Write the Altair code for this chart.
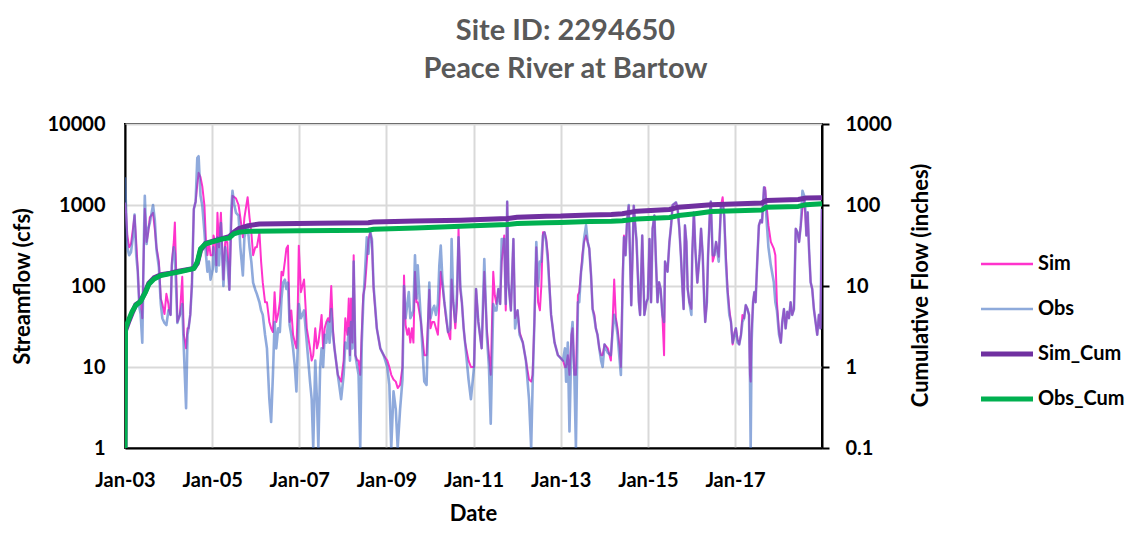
import altair as alt
import pandas as pd

# ---- streamflow (cfs) ----
flow_dates = [
    "2003-01-01","2003-01-10","2003-01-20","2003-02-05","2003-02-20","2003-03-08","2003-03-22","2003-04-05","2003-04-18",
    "2003-05-01","2003-05-12","2003-05-26","2003-06-08","2003-06-16","2003-07-01","2003-07-14","2003-07-28","2003-08-24",
    "2003-09-08","2003-09-22","2003-10-12","2003-10-28","2003-11-10","2003-11-28","2003-12-14","2003-12-31",
    "2004-01-05","2004-01-18","2004-01-29","2004-02-14","2004-02-23","2004-03-05","2004-03-15","2004-04-05","2004-04-25",
    "2004-05-08","2004-05-27","2004-06-08","2004-06-17","2004-07-01","2004-07-15","2004-07-31","2004-08-15","2004-08-29",
    "2004-09-09","2004-09-25","2004-10-10","2004-10-28","2004-11-10","2004-11-22","2004-12-05","2004-12-18",
    "2005-01-05","2005-01-12","2005-01-25","2005-02-05","2005-02-14","2005-02-27","2005-03-15","2005-04-05","2005-04-20",
    "2005-05-08","2005-05-25","2005-06-10","2005-06-20","2005-07-05","2005-07-20","2005-08-10","2005-08-25","2005-09-15",
    "2005-09-28","2005-10-25","2005-11-10","2005-11-25","2005-12-10","2005-12-28",
    "2006-01-10","2006-02-01","2006-02-15","2006-03-01","2006-03-20","2006-04-05","2006-04-25","2006-05-10","2006-05-25",
    "2006-06-08","2006-06-22","2006-07-08","2006-07-22","2006-08-05","2006-08-18","2006-09-02","2006-09-15","2006-09-28",
    "2006-10-12","2006-10-26","2006-11-10","2006-11-25","2006-12-08","2006-12-20","2006-12-28",
    "2007-01-15","2007-02-10","2007-03-05","2007-04-01","2007-04-15","2007-04-28","2007-05-15","2007-05-29","2007-06-10",
    "2007-06-25","2007-07-07","2007-07-20","2007-08-02","2007-08-16","2007-08-30","2007-09-12","2007-09-26","2007-10-10",
    "2007-10-23","2007-11-20","2007-12-18",
    "2008-01-08","2008-01-22","2008-02-08","2008-02-20","2008-03-01","2008-03-10","2008-03-22","2008-04-01","2008-04-15",
    "2008-05-01","2008-05-12","2008-05-26","2008-06-08","2008-06-20","2008-07-05","2008-07-20","2008-08-03","2008-08-18",
    "2008-09-01","2008-09-15","2008-10-12","2008-11-10","2008-12-08",
    "2009-01-08","2009-01-25","2009-02-10","2009-03-01","2009-03-20","2009-04-05","2009-04-25","2009-05-15","2009-05-28",
    "2009-06-10","2009-06-25","2009-07-07","2009-07-20","2009-08-02","2009-08-15","2009-08-28","2009-09-10","2009-09-20",
    "2009-10-17","2009-11-14","2009-12-03","2009-12-26",
    "2010-01-05","2010-01-20","2010-02-05","2010-02-20","2010-03-08","2010-03-20","2010-04-01","2010-04-15","2010-05-01",
    "2010-05-15","2010-06-01","2010-06-20","2010-07-01","2010-07-15","2010-08-01","2010-08-15","2010-08-28","2010-09-12",
    "2010-09-25","2010-10-10","2010-10-22","2010-11-20","2010-12-10",
    "2011-01-05","2011-01-22","2011-02-10","2011-03-10","2011-04-01","2011-04-22","2011-05-10","2011-05-25","2011-06-15",
    "2011-06-28","2011-07-12","2011-07-28","2011-08-12","2011-08-25","2011-09-15","2011-09-28","2011-10-10","2011-10-20",
    "2011-11-10","2011-12-01","2011-12-15",
    "2012-01-05","2012-01-22","2012-02-18","2012-03-15","2012-04-10","2012-04-28","2012-05-10","2012-05-25","2012-06-10",
    "2012-06-25","2012-07-10","2012-07-22","2012-08-05","2012-08-18","2012-09-01","2012-09-15","2012-10-12","2012-11-10",
    "2012-12-08",
    "2013-01-20","2013-02-05","2013-02-15","2013-03-01","2013-03-15","2013-04-01","2013-04-10","2013-04-25","2013-05-08",
    "2013-05-25","2013-06-05","2013-06-20","2013-07-01","2013-07-15","2013-08-01","2013-08-15","2013-08-28","2013-09-12",
    "2013-09-25","2013-10-10","2013-10-22","2013-11-05","2013-11-20","2013-12-05","2013-12-18",
    "2014-01-03","2014-01-30","2014-02-25","2014-03-10","2014-03-25","2014-04-08","2014-04-22","2014-05-10","2014-05-20",
    "2014-06-05","2014-06-15","2014-06-28","2014-07-10","2014-07-25","2014-08-15","2014-09-05","2014-09-20","2014-09-28",
    "2014-10-18","2014-10-28","2014-11-15","2014-12-03","2014-12-20",
    "2015-01-01","2015-01-15","2015-01-28","2015-02-10","2015-02-25","2015-03-10","2015-03-23","2015-04-05","2015-04-18",
    "2015-05-03","2015-05-17","2015-05-25","2015-06-15","2015-07-01","2015-07-15","2015-07-28","2015-08-25","2015-09-08",
    "2015-09-22","2015-10-05","2015-10-20","2015-10-28","2015-11-08","2015-11-20","2015-12-01","2015-12-15",
    "2016-01-01","2016-01-08","2016-01-22","2016-02-03","2016-02-20","2016-03-10","2016-03-22","2016-04-05","2016-04-18",
    "2016-04-26","2016-05-10","2016-05-20","2016-06-03","2016-06-12","2016-06-28","2016-07-12","2016-07-26","2016-08-17",
    "2016-09-05","2016-09-19","2016-10-02","2016-10-16","2016-10-30","2016-11-14","2016-11-28","2016-12-12","2016-12-28",
    "2017-01-08","2017-01-22","2017-02-05","2017-02-20","2017-03-04","2017-03-18","2017-04-01","2017-04-15","2017-04-28",
    "2017-05-06","2017-05-12","2017-05-20","2017-06-01","2017-06-12","2017-06-22","2017-07-06","2017-07-20","2017-08-03",
    "2017-08-15","2017-09-01","2017-09-10","2017-09-20","2017-10-08","2017-10-28","2017-11-22","2017-12-05","2017-12-18",
    "2018-01-05","2018-01-20","2018-02-01","2018-02-15","2018-03-01","2018-03-15","2018-03-29","2018-04-12","2018-04-25",
    "2018-05-10","2018-05-25","2018-06-08","2018-06-22","2018-07-06","2018-07-20","2018-08-03","2018-08-12","2018-08-22",
    "2018-09-02","2018-09-13","2018-09-27","2018-10-10","2018-10-24","2018-11-07","2018-11-21","2018-12-05","2018-12-18",
    "2018-12-30",
]
sim_cfs = [
    1070,800,420,300,330,500,740,350,160, 60,70,40,300,900,350,450,700,800, 500,300,200,70,60,45,80,60,
    50,44,200,350,610,150,36,44,130, 25,17,30,30,44,110,890,1100,1800, 2500,2200,1700,980,350,240,350,240,
    240,420,350,180,800,300,800,120,350, 350,90,600,1300,1250,1200,1000,700,400, 700,1250,700,460,240,300,
    300,460,200,110,63,63,36,30,27, 84,36,45,63,150,135,200,290,315, 36,50,25,20,17,60,315,
    84,120,30,17,12,14,30,17,20, 30,44,17,30,36,40,36,100,30, 17,8,6.6,
    12,40,25,70,14,70,20,240,14, 12,12,8,27,77,100,200,380,460, 350,92,30,17,14,
    12,10,8,7,6.6,5.5,6,10,135, 33,25,30,20,30,20,150,63,63, 36,14,14,90,
    30,36,36,30,25,60,150,100,63, 40,27,22,120,63,30,60,510,90, 63,30,20,12,10,
    10,92,36,17,150,30,14,8,150, 77,60,92,60,200,420,50,1100,110, 50,380,40,
    50,27,20,12,7,6.6,8,36,300, 63,50,100,460,460,380,240,44,20, 14,
    12,10,10,14,8,25,30,8,8, 77,84,150,240,350,420,350,290,135, 52,44,30,25,17,14,14,
    19,17,12,30,120,40,30,17,10, 150,420,240,610,980,58,980,500,350, 63,44,420,44,63,
    70,380,63,510,740,200,63,111,92, 44,14,200,150,350,560,1000,1070,890, 510,240,84,52,560,350,92,63,
    52,240,810,290,110,240,510,240,63, 36,63,240,740,1100,200,240,350,230, 980,1250,740,240,92,52,36,19,27,
    30,22,19,25,44,40,58,52,44, 8,6.6,27,63,84,63,200,560,650, 610,1650,1650,1070,560,350,290,240,63,
    27,20,36,52,30,48,40,63,44, 52,510,460,350,560,900,1100,810,420, 810,290,111,92,52,36,25,44,30,
    890,
]
obs_cfs = [
    2200,900,300,240,260,400,760,240,150, 55,45,20,350,1300,330,500,600,1000, 650,280,170,60,40,35,33,50,
    50,44,180,300,250,90,35,44,60, 17,3.1,25,30,44,100,890,1100,3800, 4000,1300,980,460,240,150,200,120,
    160,300,200,150,400,180,600,100,300, 200,90,900,1500,1000,800,740,300,135, 400,560,300,200,110,90,
    80,63,50,44,25,17,4,2.1,8, 36,17,30,27,70,110,120,92,110, 33,25,17,10,5,20,60,
    40,50,20,6.6,4,1,12,4,1, 10,17,10,25,20,36,20,52,25, 17,8,4,
    8,20,17,30,12,36,17,200,14, 10,8,1,20,60,150,400,250,460, 380,100,30,17,14,
    10,6,1,5,3,1,3,7,100, 40,60,84,40,44,50,240,70,180, 36,6.6,6,110,
    40,50,57,44,60,180,315,120,63, 44,27,30,380,63,36,80,400,100, 63,30,20,7,4,
    10,92,36,17,215,25,10,2,60, 50,50,92,60,380,380,60,1100,110, 50,380,30,
    50,25,20,12,4,1,6,36,350, 100,200,200,420,460,350,200,44,20, 14,
    12,17,6.6,20,1.6,25,36,8,1, 63,63,150,200,380,560,350,290,135, 52,40,30,25,17,12,10,
    19,15,14,25,44,36,25,12,8, 120,400,240,600,1000,58,980,500,380, 63,44,420,44,63,
    70,380,63,510,740,200,63,111,92, 44,36,200,150,350,560,1000,1080,890, 510,240,84,52,560,350,92,63,
    44,240,810,290,111,240,510,240,63, 36,63,240,740,1100,240,240,350,200, 980,1000,740,200,84,44,36,20,25,
    30,20,19,25,36,40,58,52,44, 8,1,20,63,84,63,200,560,650, 610,1650,1500,740,300,180,111,63,50,
    25,20,36,52,30,48,40,63,44, 52,510,460,350,560,1500,1300,980,420, 810,290,111,92,52,36,25,44,30,
    900,
]

# ---- cumulative flow (inches) ----
obs_cum_dates = [
    "2003-01-01","2003-01-05","2003-02-03","2003-03-01","2003-04-02","2003-05-10","2003-06-22","2003-07-20","2003-09-01",
    "2003-10-29","2004-01-15","2004-03-14","2004-07-31","2004-08-29","2004-09-25","2004-11-05","2005-01-01","2005-03-23",
    "2005-05-22","2005-07-01","2005-08-10","2005-11-01","2007-01-01","2008-08-01","2008-09-15","2009-09-01","2010-09-15",
    "2011-01-01","2011-10-10","2012-01-01","2012-09-01","2013-01-01","2013-09-01","2014-03-01","2014-06-01","2014-10-01",
    "2015-07-01","2015-09-15","2016-02-01","2016-06-15","2017-08-15","2017-09-20","2018-06-15","2018-08-20","2018-12-31",
]
obs_cum = [
    0.1,3.0,3.9,4.8,5.8,6.4,8.4,10.5,12.2, 13.5,14.2,14.8,16.4,19.8,28.8,33,35,38,
    39,44,46,47.5,48,48.8,50.3,52,54.5, 55.6,57.5,59,60.5,61,62.5,63,64,67,
    70,74,78,83,87,94,96,101,104,
]
sim_cum_dates = [
    "2003-01-01","2003-01-05","2003-02-03","2003-03-01","2003-04-02","2003-05-10","2003-06-22","2003-07-20","2003-09-01",
    "2003-10-29","2004-01-15","2004-03-14","2004-07-31","2004-08-29","2004-09-25","2004-11-05","2005-01-01","2005-03-23",
    "2005-05-22","2005-07-01","2005-08-10","2005-11-01","2006-02-01","2007-06-01","2008-08-01","2008-09-15","2009-09-01",
    "2010-09-15","2011-01-01","2011-10-10","2012-01-01","2012-09-01","2013-01-01","2013-09-01","2014-03-01","2014-06-01",
    "2014-10-01","2015-07-01","2015-09-15","2016-02-01","2016-06-15","2017-08-15","2017-09-20","2018-06-15","2018-08-20",
    "2018-12-31",
]
sim_cum = [
    0.1,2.8,3.7,4.6,5.9,6.4,8.6,10.8,12.6, 13.8,14.4,15.1,16.5,19.0,27.5,33.5,35.5,38.5,
    40.5,46,51,55.6,58.4,59.6,60.5,61.8,63.5, 65,65.8,68,70.6,72.5,73,75.5,76.5,78,
    84,88,94,97,101,106,114,117,122, 123,
]

series_names = ["Sim", "Obs", "Sim_Cum", "Obs_Cum"]
series_colors = ["#FF33CC", "#4472C4", "#7030A0", "#00B050"]
x_tick_years = [2003, 2005, 2007, 2009, 2011, 2013, 2015, 2017]

flow = pd.concat([
    pd.DataFrame({"date": flow_dates, "series": "Sim", "value": sim_cfs}),
    pd.DataFrame({"date": flow_dates, "series": "Obs", "value": obs_cfs}),
])
cum = pd.concat([
    pd.DataFrame({"date": sim_cum_dates, "series": "Sim_Cum", "value": sim_cum}),
    pd.DataFrame({"date": obs_cum_dates, "series": "Obs_Cum", "value": obs_cum}),
])

FONT = "Lato"

legend = alt.Legend(
    title=None, orient="none", legendX=872, legendY=130, direction="vertical",
    symbolType="stroke", symbolSize=2704, rowPadding=25, padding=0,
    symbolStrokeWidth=alt.ExprRef(expr="indexof(['Sim_Cum','Obs_Cum'], datum.value) >= 0 ? 5 : 2.5"),
    symbolOpacity=alt.ExprRef(expr="datum.value == 'Obs' ? 0.6 : 1"),
    labelFont=FONT, labelFontSize=20, labelFontWeight="bold", labelColor="black", labelOffset=21,
)
color = alt.Color("series:N", scale=alt.Scale(domain=series_names, range=series_colors), legend=legend)

x_enc = alt.X(
    "date:T",
    scale=alt.Scale(domain=[alt.DateTime(year=2003, month=1, date=1, utc=True),
                            alt.DateTime(year=2018, month=12, date=31, utc=True)]),
    axis=alt.Axis(
        values=[alt.DateTime(year=y, month=1, date=1, utc=True) for y in x_tick_years],
        labelExpr="utcFormat(datum.value, '%b-%y')",
        title="Date", titleFont=FONT, titleFontSize=22, titleFontWeight="bold", titleColor="black",
        titleX=348, titleY=65, titleBaseline="middle",
        labelFont=FONT, labelFontSize=20, labelFontWeight="bold", labelColor="black", labelPadding=22,
        ticks=False, tickSize=0, grid=True, gridColor="#D9D9D9", gridWidth=2,
        domainColor="black", domainWidth=2, labelFlush=False,
    ),
)

y_left = alt.Y(
    "value:Q",
    scale=alt.Scale(type="log", domain=[1, 10000]),
    axis=alt.Axis(
        values=[1, 10, 100, 1000, 10000], format="d", orient="left",
        title="Streamflow (cfs)", titleFont=FONT, titleFontSize=22, titleFontWeight="bold", titleColor="black",
        titleX=-103, titleY=162, titleAngle=270, titleBaseline="middle", titleAlign="center",
        labelFont=FONT, labelFontSize=20, labelFontWeight="bold", labelColor="black", labelPadding=20,
        ticks=False, tickSize=0, grid=True, gridColor="#D9D9D9", gridWidth=2,
        domainColor="black", domainWidth=2,
    ),
)
y_right = alt.Y(
    "value:Q",
    scale=alt.Scale(type="log", domain=[0.1, 1000]),
    axis=alt.Axis(
        values=[0.1, 1, 10, 100, 1000], format="~g", orient="right",
        title="Cumulative Flow (inches)", titleFont=FONT, titleFontSize=22, titleFontWeight="bold", titleColor="black",
        titleX=98, titleY=161, titleAngle=270, titleBaseline="middle", titleAlign="center",
        labelFont=FONT, labelFontSize=20, labelFontWeight="bold", labelColor="black", labelPadding=16,
        ticks=True, tickSize=7, tickColor="black", tickWidth=2, grid=False,
        domainColor="black", domainWidth=2,
    ),
)

def flow_layer(name, width, opacity):
    return alt.Chart(flow).transform_filter(alt.datum.series == name).mark_line(
        clip=True, strokeWidth=width, opacity=opacity, strokeJoin="round"
    ).encode(x=x_enc, y=y_left, color=color)

def cum_layer(name, width):
    return alt.Chart(cum).transform_filter(alt.datum.series == name).mark_line(
        clip=True, strokeWidth=width, strokeJoin="round"
    ).encode(x=x_enc, y=y_right, color=color)

flows = alt.layer(flow_layer("Sim", 2, 1), flow_layer("Obs", 2.6, 0.6))
cums = alt.layer(cum_layer("Sim_Cum", 5), cum_layer("Obs_Cum", 5))

chart = alt.layer(flows, cums).resolve_scale(y="independent").properties(
    width=697, height=324,
    title=alt.TitleParams(
        ["Site ID: 2294650", "Peace River at Bartow"],
        font=FONT, fontSize=29, fontWeight="bold", color="#595959",
        anchor="middle", dx=92, offset=30, lineHeight=38,
    ),
    autosize=alt.AutoSizeParams(type="none"),
    padding={"left": 117, "top": 116, "right": 310, "bottom": 77},
).configure_view(stroke="black", strokeWidth=2)

chart.save("out.html", embed_options={"renderer": "svg", "actions": False})
